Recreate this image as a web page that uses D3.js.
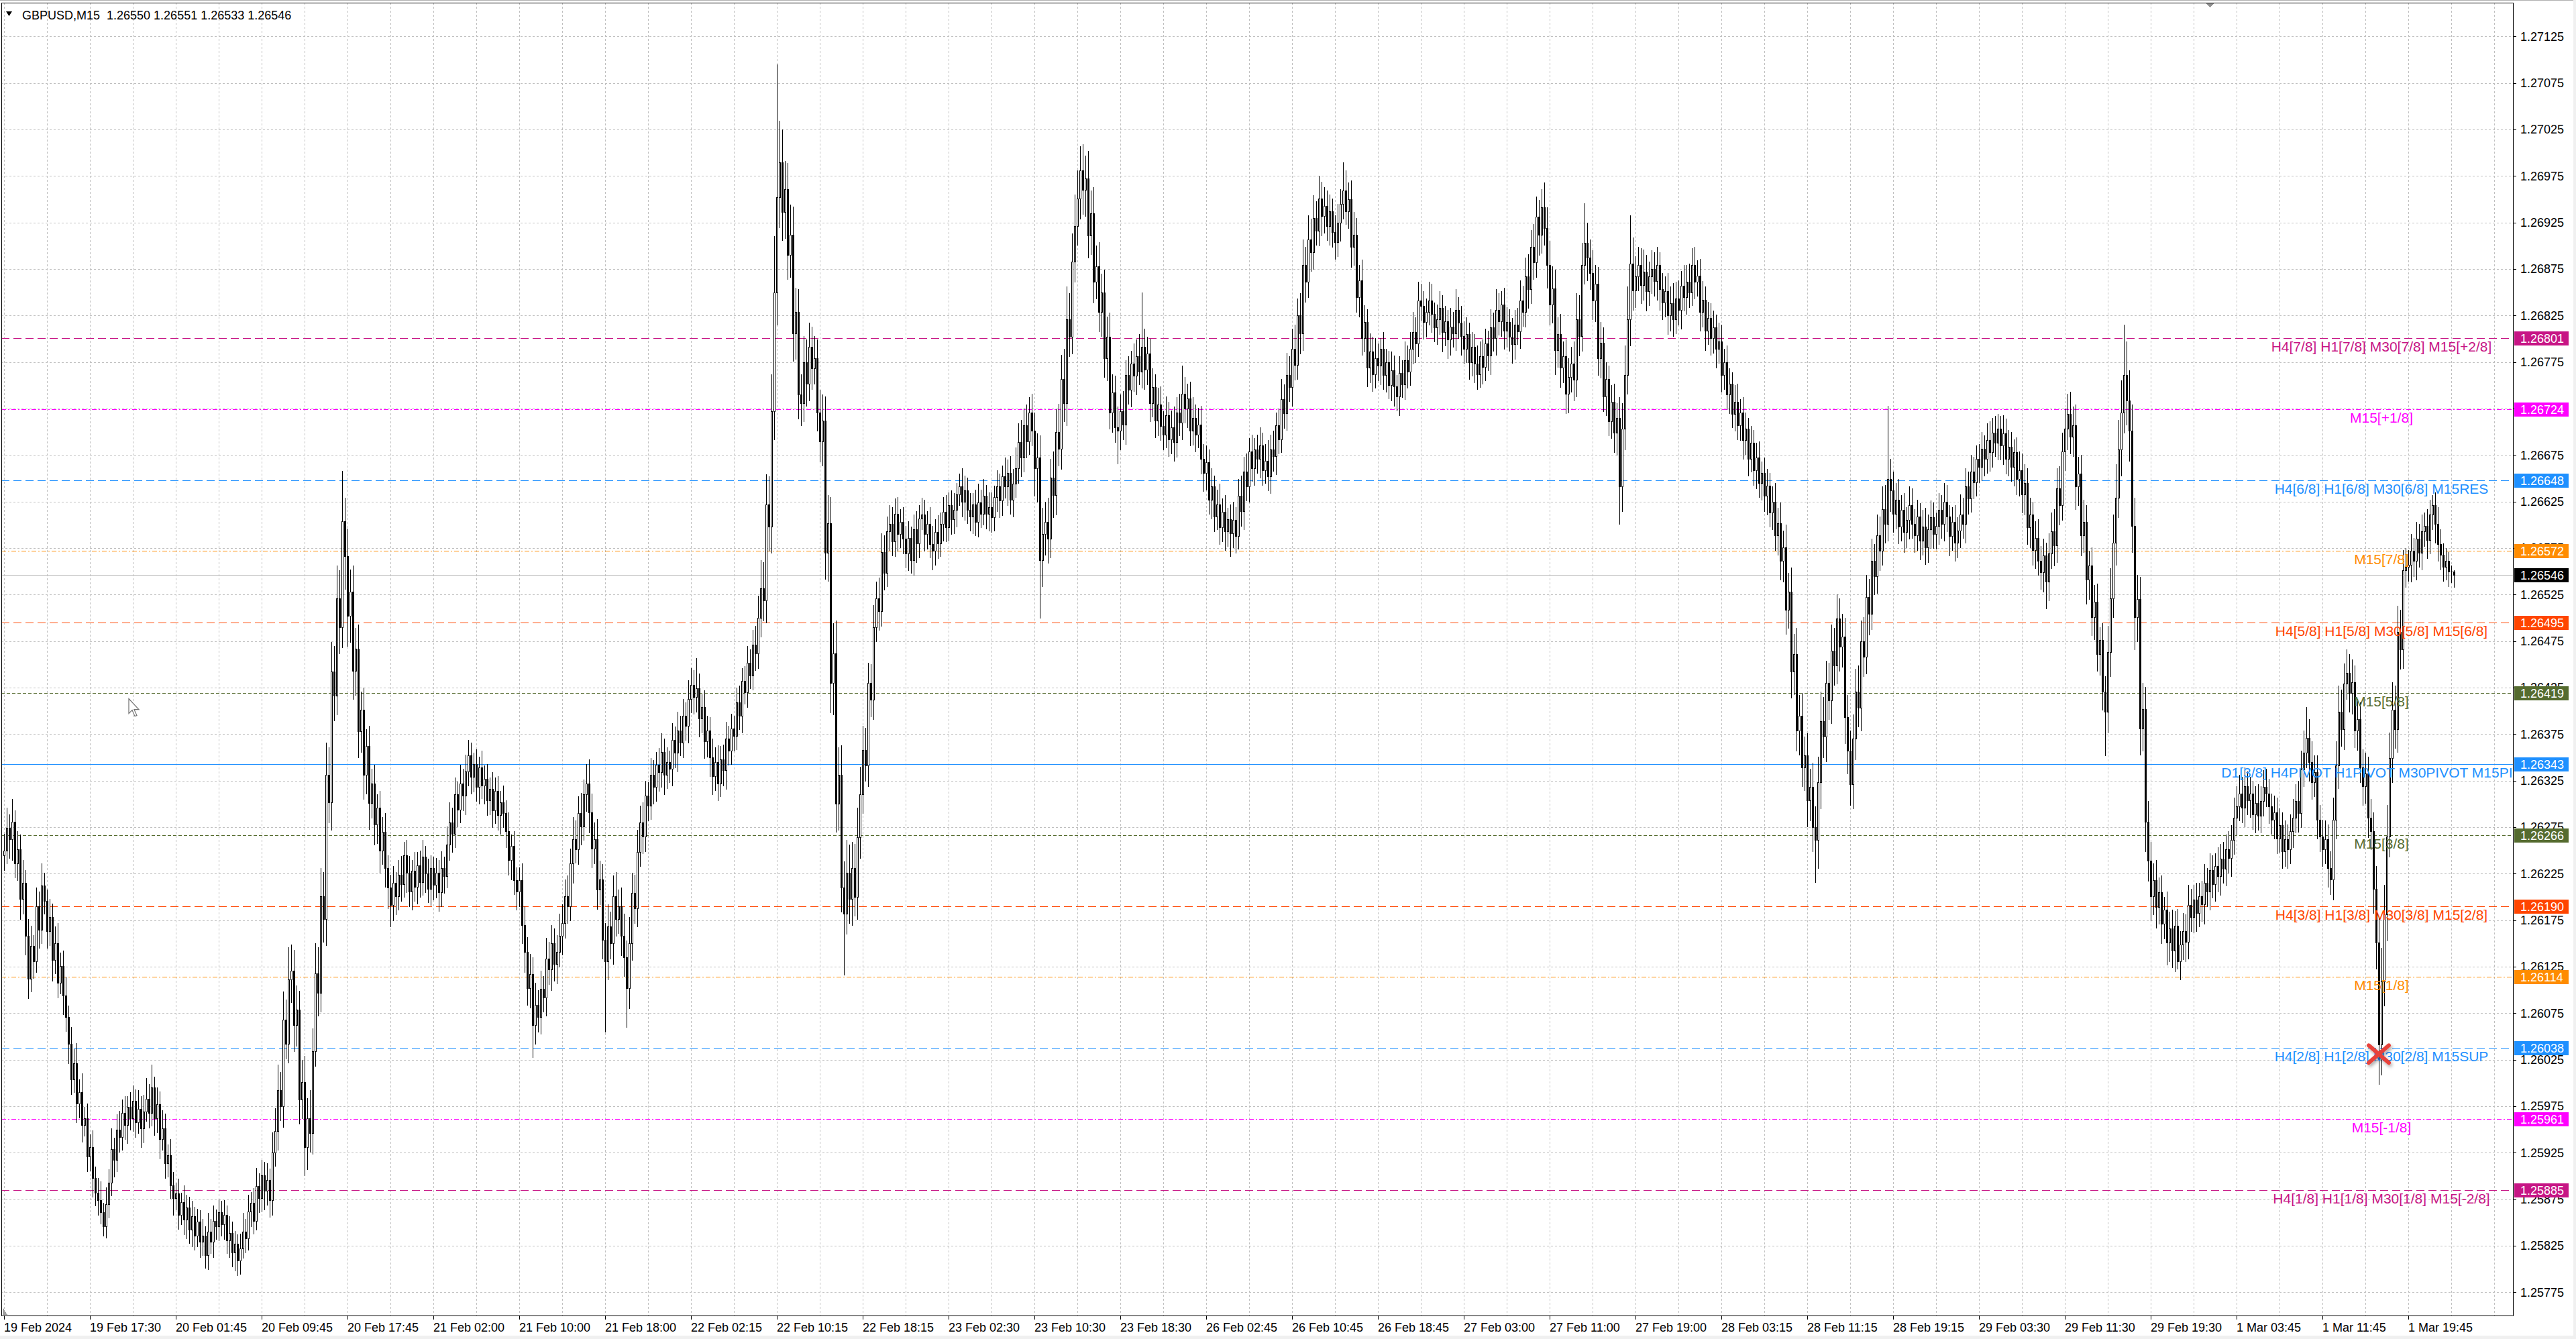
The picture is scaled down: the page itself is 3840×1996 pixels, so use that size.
<!DOCTYPE html>
<html><head><meta charset="utf-8">
<script src="https://cdn.jsdelivr.net/npm/d3@7"></script>
<style>html,body{margin:0;padding:0;background:#fff;overflow:hidden}svg{display:block;font-family:"Liberation Sans",Arial,sans-serif}</style>
</head><body><svg id="c" width="3840" height="1996"></svg>
<script>
// ---------- DATA (prices in points above 1.25000; 1 point = 0.00001) ----------
const symbolTitle = "GBPUSD,M15  1.26550 1.26551 1.26533 1.26546";
const basePrice = 1.25, pointSize = 0.00001;
const opens = [
1245,1250,1274,1262,1281,1236,1251,1198,1215,1158,1112,1147,1131,1190,1165,1212,
1196,1163,1178,1132,1150,1108,1126,1094,1071,1042,1004,1021,978,990,955,962,
921,931,898,882,874,861,846,870,893,929,917,950,942,968,955,974,
962,981,958,972,951,969,983,968,995,962,977,940,951,914,922,890,
876,881,858,872,853,866,842,857,836,851,829,836,815,840,829,852,
846,861,848,858,831,839,818,827,809,822,840,833,862,871,852,889,
876,901,884,896,874,925,948,992,975,1068,1042,1111,1121,1062,1079,982,
1001,931,962,946,1034,1118,1097,1201,1176,1331,1302,1442,1416,1521,1490,1604,
1566,1502,1528,1443,1467,1378,1401,1331,1362,1301,1322,1278,1296,1250,1270,1231,
1210,1191,1215,1201,1224,1214,1245,1226,1206,1228,1211,1234,1216,1243,1225,1209,
1231,1213,1226,1205,1231,1222,1256,1280,1268,1310,1294,1322,1309,1335,1352,1329,
1343,1318,1339,1320,1327,1304,1316,1293,1314,1288,1302,1290,1271,1240,1255,1218,
1206,1218,1170,1141,1102,1117,1062,1084,1071,1101,1092,1134,1122,1150,1128,1141,
1158,1172,1201,1190,1236,1262,1251,1290,1276,1310,1322,1291,1252,1262,1208,1219,
1154,1131,1168,1150,1201,1176,1190,1158,1135,1102,1150,1204,1188,1248,1280,1265,
1309,1298,1331,1318,1342,1334,1356,1331,1345,1338,1369,1355,1379,1366,1395,1384,
1413,1428,1415,1424,1392,1404,1367,1379,1350,1330,1345,1322,1348,1336,1370,1357,
1381,1373,1409,1395,1432,1420,1452,1438,1471,1462,1500,1532,1519,1622,1598,1722,
1850,1952,1990,1936,1961,1890,1912,1806,1829,1740,1731,1775,1752,1791,1768,1779,
1721,1690,1712,1570,1602,1430,1462,1300,1331,1210,1182,1226,1198,1231,1200,1264,
1310,1358,1341,1430,1412,1490,1521,1507,1571,1548,1593,1601,1582,1612,1590,1603,
1585,1569,1586,1562,1595,1580,1607,1611,1590,1601,1579,1572,1592,1580,1601,1614,
1597,1621,1606,1616,1633,1641,1625,1637,1616,1609,1622,1603,1624,1612,1631,1612,
1619,1608,1630,1641,1626,1652,1641,1656,1627,1644,1661,1689,1672,1707,1690,1721,
1701,1661,1672,1562,1590,1603,1585,1651,1632,1700,1682,1757,1731,1821,1802,1883,
1921,1951,1981,1960,1972,1911,1935,1861,1878,1829,1850,1779,1802,1721,1742,1705,
1701,1722,1708,1761,1745,1773,1760,1781,1765,1791,1767,1784,1731,1748,1712,1729,
1706,1697,1718,1692,1705,1689,1721,1710,1741,1725,1736,1701,1715,1697,1708,1671,
1656,1667,1627,1641,1609,1622,1597,1614,1593,1606,1591,1605,1588,1631,1615,1657,
1641,1679,1661,1681,1671,1685,1659,1669,1652,1681,1674,1707,1692,1735,1720,1761,
1748,1789,1772,1825,1806,1879,1861,1907,1893,1930,1916,1951,1932,1943,1921,1937,
1915,1904,1925,1945,1959,1937,1950,1899,1912,1845,1863,1801,1818,1769,1786,1762,
1779,1771,1789,1761,1775,1750,1766,1749,1738,1763,1751,1777,1765,1789,1807,1795,
1841,1835,1818,1829,1841,1827,1812,1821,1833,1807,1819,1799,1813,1806,1831,1817,
1803,1789,1805,1775,1791,1773,1762,1781,1770,1795,1782,1812,1801,1831,1819,1837,
1809,1818,1802,1794,1815,1808,1841,1829,1867,1853,1899,1882,1931,1912,1941,1919,
1879,1837,1854,1788,1805,1769,1781,1741,1759,1773,1756,1821,1803,1879,1903,1887,
1871,1841,1859,1779,1796,1738,1757,1711,1732,1699,1715,1641,1703,1761,1821,1881,
1852,1867,1879,1858,1872,1851,1867,1875,1862,1879,1853,1839,1851,1825,1838,1821,
1843,1831,1857,1845,1861,1850,1879,1861,1868,1829,1842,1809,1822,1801,1812,1789,
1797,1761,1775,1740,1752,1719,1732,1707,1721,1691,1703,1671,1688,1659,1672,1645,
1656,1631,1642,1613,1625,1589,1602,1561,1576,1509,1528,1442,1461,1379,1395,1339,
1352,1304,1318,1275,1261,1323,1389,1372,1430,1411,1465,1449,1499,1469,1480,1393,
1357,1321,1370,1421,1403,1475,1458,1522,1504,1561,1545,1589,1572,1617,1601,1649,
1637,1612,1627,1598,1616,1592,1605,1621,1601,1589,1609,1583,1598,1576,1595,1608,
1590,1599,1616,1601,1625,1609,1588,1603,1581,1594,1611,1601,1641,1628,1657,1646,
1671,1662,1682,1671,1691,1678,1699,1688,1703,1685,1698,1671,1684,1662,1678,1649,
1659,1633,1645,1597,1611,1573,1586,1561,1549,1567,1539,1569,1593,1578,1639,1621,
1679,1703,1719,1695,1707,1641,1655,1589,1603,1541,1556,1501,1517,1461,1476,1421,
1399,1463,1521,1581,1629,1681,1721,1761,1734,1701,1599,1501,1520,1381,1402,1281,
1239,1201,1218,1189,1205,1171,1186,1151,1166,1142,1169,1131,1149,1163,1152,1191,
1178,1197,1183,1201,1192,1215,1206,1229,1214,1233,1222,1241,1230,1251,1242,1261,
1285,1297,1311,1296,1319,1304,1311,1289,1301,1287,1303,1318,1311,1297,1283,1291,
1263,1277,1249,1262,1251,1271,1285,1303,1290,1337,1355,1371,1345,1323,1334,1283,
1265,1251,1262,1231,1219,1283,1341,1399,1380,1429,1441,1419,1431,1379,1391,1339,
1319,1333,1285,1271,1209,1151,1041,1109,1181,1265,1349,1401,1380,1485,1466,1551,
1555,1557,1572,1561,1585,1570,1593,1599,1584,1611,1621,1601,1579,1568,1555,1561,
1550,1550];
const closes = [
1250,1274,1262,1281,1236,1251,1198,1215,1158,1112,1147,1131,1190,1165,1212,1196,
1163,1178,1132,1150,1108,1126,1094,1071,1042,1004,1021,978,990,955,962,921,
931,898,882,874,861,846,870,893,929,917,950,942,968,955,974,962,
981,958,972,951,969,983,968,995,962,977,940,951,914,922,890,876,
881,858,872,853,866,842,857,836,851,829,836,815,840,829,852,846,
861,848,858,831,839,818,827,809,822,840,833,862,871,852,889,876,
901,884,896,874,925,948,992,975,1068,1042,1111,1121,1062,1079,982,1001,
931,962,946,1034,1118,1097,1201,1176,1331,1302,1442,1416,1521,1490,1604,1566,
1502,1528,1443,1467,1378,1401,1331,1362,1301,1322,1278,1296,1250,1270,1231,1210,
1191,1215,1201,1224,1214,1245,1226,1206,1228,1211,1234,1216,1243,1225,1209,1231,
1213,1226,1205,1231,1222,1256,1280,1268,1310,1294,1322,1309,1335,1352,1329,1343,
1318,1339,1320,1327,1304,1316,1293,1314,1288,1302,1290,1271,1240,1255,1218,1206,
1218,1170,1141,1102,1117,1062,1084,1071,1101,1092,1134,1122,1150,1128,1141,1158,
1172,1201,1190,1236,1262,1251,1290,1276,1310,1322,1291,1252,1262,1208,1219,1154,
1131,1168,1150,1201,1176,1190,1158,1135,1102,1150,1204,1188,1248,1280,1265,1309,
1298,1331,1318,1342,1334,1356,1331,1345,1338,1369,1355,1379,1366,1395,1384,1413,
1428,1415,1424,1392,1404,1367,1379,1350,1330,1345,1322,1348,1336,1370,1357,1381,
1373,1409,1395,1432,1420,1452,1438,1471,1462,1500,1532,1519,1622,1598,1722,1850,
1952,1990,1936,1961,1890,1912,1806,1829,1740,1731,1775,1752,1791,1768,1779,1721,
1690,1712,1570,1602,1430,1462,1300,1331,1210,1182,1226,1198,1231,1200,1264,1310,
1358,1341,1430,1412,1490,1521,1507,1571,1548,1593,1601,1582,1612,1590,1603,1585,
1569,1586,1562,1595,1580,1607,1611,1590,1601,1579,1572,1592,1580,1601,1614,1597,
1621,1606,1616,1633,1641,1625,1637,1616,1609,1622,1603,1624,1612,1631,1612,1619,
1608,1630,1641,1626,1652,1641,1656,1627,1644,1661,1689,1672,1707,1690,1721,1701,
1661,1672,1562,1590,1603,1585,1651,1632,1700,1682,1757,1731,1821,1802,1883,1921,
1951,1981,1960,1972,1911,1935,1861,1878,1829,1850,1779,1802,1721,1742,1705,1701,
1722,1708,1761,1745,1773,1760,1781,1765,1791,1767,1784,1731,1748,1712,1729,1706,
1697,1718,1692,1705,1689,1721,1710,1741,1725,1736,1701,1715,1697,1708,1671,1656,
1667,1627,1641,1609,1622,1597,1614,1593,1606,1591,1605,1588,1631,1615,1657,1641,
1679,1661,1681,1671,1685,1659,1669,1652,1681,1674,1707,1692,1735,1720,1761,1748,
1789,1772,1825,1806,1879,1861,1907,1893,1930,1916,1951,1932,1943,1921,1937,1915,
1904,1925,1945,1959,1937,1950,1899,1912,1845,1863,1801,1818,1769,1786,1762,1779,
1771,1789,1761,1775,1750,1766,1749,1738,1763,1751,1777,1765,1789,1807,1795,1841,
1835,1818,1829,1841,1827,1812,1821,1833,1807,1819,1799,1813,1806,1831,1817,1803,
1789,1805,1775,1791,1773,1762,1781,1770,1795,1782,1812,1801,1831,1819,1837,1809,
1818,1802,1794,1815,1808,1841,1829,1867,1853,1899,1882,1931,1912,1941,1919,1879,
1837,1854,1788,1805,1769,1781,1741,1759,1773,1756,1821,1803,1879,1903,1887,1871,
1841,1859,1779,1796,1738,1757,1711,1732,1699,1715,1641,1703,1761,1821,1881,1852,
1867,1879,1858,1872,1851,1867,1875,1862,1879,1853,1839,1851,1825,1838,1821,1843,
1831,1857,1845,1861,1850,1879,1861,1868,1829,1842,1809,1822,1801,1812,1789,1797,
1761,1775,1740,1752,1719,1732,1707,1721,1691,1703,1671,1688,1659,1672,1645,1656,
1631,1642,1613,1625,1589,1602,1561,1576,1509,1528,1442,1461,1379,1395,1339,1352,
1304,1318,1275,1261,1323,1389,1372,1430,1411,1465,1449,1499,1469,1480,1393,1357,
1321,1370,1421,1403,1475,1458,1522,1504,1561,1545,1589,1572,1617,1601,1649,1637,
1612,1627,1598,1616,1592,1605,1621,1601,1589,1609,1583,1598,1576,1595,1608,1590,
1599,1616,1601,1625,1609,1588,1603,1581,1594,1611,1601,1641,1628,1657,1646,1671,
1662,1682,1671,1691,1678,1699,1688,1703,1685,1698,1671,1684,1662,1678,1649,1659,
1633,1645,1597,1611,1573,1586,1561,1549,1567,1539,1569,1593,1578,1639,1621,1679,
1703,1719,1695,1707,1641,1655,1589,1603,1541,1556,1501,1517,1461,1476,1421,1399,
1463,1521,1581,1629,1681,1721,1761,1734,1701,1599,1501,1520,1381,1402,1281,1239,
1201,1218,1189,1205,1171,1186,1151,1166,1142,1169,1131,1149,1163,1152,1191,1178,
1197,1183,1201,1192,1215,1206,1229,1214,1233,1222,1241,1230,1251,1242,1261,1285,
1297,1311,1296,1319,1304,1311,1289,1301,1287,1303,1318,1311,1297,1283,1291,1263,
1277,1249,1262,1251,1271,1285,1303,1290,1337,1355,1371,1345,1323,1334,1283,1265,
1251,1262,1231,1219,1283,1341,1399,1380,1429,1441,1419,1431,1379,1391,1339,1319,
1333,1285,1271,1209,1151,1041,1109,1181,1265,1349,1401,1380,1485,1466,1551,1555,
1557,1572,1561,1585,1570,1593,1599,1584,1611,1621,1601,1579,1568,1555,1561,1550,
1550,1546];
const upperWicks = [
18,22,15,24,12,20,16,25,14,18,22,12,20,16,24,14,
12,20,15,18,22,14,16,20,12,18,15,22,14,20,12,16,
14,18,12,16,20,10,18,14,22,12,16,20,14,18,12,16,
16,12,20,14,18,22,16,25,12,18,14,20,16,12,18,14,
12,16,10,18,14,12,16,10,14,12,18,10,20,14,16,12,
14,12,16,10,18,12,14,10,16,20,14,18,12,16,20,14,
16,14,18,12,22,25,28,20,30,22,35,28,22,26,20,24,
28,22,30,25,32,28,30,26,35,30,32,28,35,30,54,25,
30,24,28,22,26,20,24,18,22,16,20,14,18,16,20,14,
14,18,12,16,20,14,16,18,12,20,14,16,18,12,16,14,
12,16,14,18,12,20,22,16,18,14,20,16,18,17,14,12,
16,12,18,14,16,12,18,14,16,12,18,14,20,12,16,14,
14,18,20,16,22,18,24,16,20,14,22,18,20,16,18,24,
20,18,22,16,24,20,18,22,16,21,26,20,18,22,20,16,
18,24,16,22,26,18,20,24,18,28,22,20,24,18,22,16,
14,18,16,14,18,20,14,16,12,18,14,20,16,18,14,20,
18,16,33,16,14,18,16,14,20,16,18,14,16,18,14,16,
14,16,18,14,16,18,14,16,20,24,30,28,32,30,40,60,
143,44,35,30,28,32,30,26,24,22,28,24,26,22,24,20,
24,28,26,30,28,32,35,30,32,28,35,30,28,26,32,30,
26,24,22,20,24,18,22,20,18,16,20,18,16,18,14,16,
14,18,12,16,20,14,18,16,14,18,20,14,18,12,16,18,
14,16,18,12,14,20,16,14,18,12,16,20,14,18,12,16,
16,12,18,14,12,20,14,18,16,22,20,24,18,22,16,20,
20,26,24,28,22,26,20,28,24,30,26,32,35,28,30,34,
30,26,28,25,30,24,28,22,26,20,24,22,26,20,18,22,
18,22,16,20,14,22,18,24,59,20,18,16,20,14,18,20,
16,20,14,18,22,16,20,30,18,16,18,22,14,18,20,16,
18,14,20,12,16,22,14,18,12,16,20,14,18,22,16,20,
14,18,12,16,20,14,18,22,16,20,14,18,22,16,24,20,
22,26,18,24,28,20,26,22,24,18,24,18,20,16,18,14,
18,20,16,31,22,18,20,24,18,16,22,18,14,20,16,22,
16,12,18,14,12,20,16,12,18,14,20,16,18,22,16,20,
18,16,14,20,18,12,16,18,14,16,12,20,16,22,14,18,
16,18,12,16,14,20,16,18,16,14,20,16,22,18,14,18,
16,14,20,16,18,22,16,20,24,18,24,22,18,20,27,22,
26,24,20,18,22,16,18,20,18,24,28,26,24,43,22,20,
24,20,18,22,16,18,14,18,20,16,22,28,32,35,52,28,
22,20,18,24,18,16,20,18,20,14,18,16,20,18,22,18,
20,16,22,18,20,18,20,16,18,20,14,18,16,18,14,20,
18,14,18,16,12,18,20,14,16,18,12,18,14,16,18,12,
16,18,14,16,20,16,22,18,24,20,26,22,28,22,24,20,
24,20,26,22,28,32,26,24,22,28,24,26,22,24,20,24,
22,26,24,28,22,26,24,20,24,18,22,20,24,26,79,22,
20,18,22,16,18,14,20,18,16,18,14,18,20,16,18,16,
14,18,16,20,18,12,16,18,14,22,18,20,16,18,16,14,
16,18,14,18,20,16,18,16,14,20,16,18,16,14,16,20,
18,20,16,18,14,18,20,16,18,14,22,20,24,22,24,20,
22,22,24,20,22,18,20,24,18,16,20,18,20,14,18,16,
28,32,30,36,32,34,54,36,32,28,30,26,24,28,24,22,
20,18,22,16,18,14,20,18,20,16,18,14,20,18,22,18,
16,18,14,16,20,16,18,16,14,20,16,18,16,20,16,22,
22,20,18,20,16,18,14,18,20,16,18,20,16,14,18,16,
18,14,20,16,18,20,18,22,20,24,33,20,22,18,18,16,
18,20,16,18,24,26,28,24,22,25,20,24,18,22,18,20,
22,18,20,20,24,28,36,32,34,28,30,26,28,24,22,20,
16,18,14,18,16,18,14,18,16,11,14,18,16,12,14,10,
6,1];
const lowerWicks = [
16,14,20,22,15,18,22,16,20,21,14,18,12,20,15,14,
18,15,22,14,16,12,20,15,21,16,14,20,15,18,12,16,
15,20,14,16,12,10,12,15,14,18,12,16,14,15,20,12,
14,16,12,20,15,10,16,14,18,15,21,12,16,15,14,18,
12,15,10,16,20,14,18,15,12,16,14,14,15,12,16,14,
15,12,16,14,18,15,20,16,14,10,15,12,16,14,10,15,
14,20,15,18,16,14,20,15,22,16,20,24,28,22,26,20,
30,24,20,22,16,25,20,24,28,22,30,26,20,28,22,35,
32,28,30,26,28,22,26,20,28,16,22,20,24,15,20,22,
23,16,20,15,18,14,21,16,20,15,18,16,14,20,15,18,
16,14,20,15,18,12,16,20,15,18,14,16,20,15,18,16,
15,18,14,20,16,15,18,14,16,20,15,18,16,21,15,20,
16,20,22,18,21,34,20,16,18,15,20,16,22,18,21,16,
20,16,18,15,21,14,16,20,15,18,22,20,16,21,16,20,
76,20,16,22,18,15,21,20,42,22,18,16,20,15,18,16,
16,14,18,15,20,16,21,14,15,18,16,20,14,16,15,18,
15,18,16,20,15,18,16,20,20,15,18,14,16,20,15,14,
16,14,15,18,12,16,14,15,18,16,20,22,24,26,28,30,
35,32,30,28,26,24,30,28,26,24,20,24,18,22,16,20,
22,26,28,30,32,34,30,28,26,66,22,26,28,20,24,22,
20,16,22,18,21,15,20,16,18,14,20,15,16,18,14,16,
15,18,14,16,20,15,12,18,16,14,20,15,16,14,18,15,
14,16,15,18,12,16,20,14,15,18,14,16,15,12,16,18,
16,14,15,18,16,12,20,15,18,14,16,20,15,18,14,16,
30,36,62,28,22,26,20,24,21,18,22,20,24,21,18,22,
20,22,26,28,24,20,22,18,21,26,20,24,18,21,16,35,
20,16,21,15,18,16,20,14,18,21,16,20,15,18,16,15,
16,14,18,15,20,16,14,18,15,20,16,15,18,14,16,20,
18,15,20,16,14,18,15,20,16,25,15,18,14,16,20,15,
16,14,18,15,20,16,14,15,18,16,20,15,14,16,18,15,
20,16,15,22,18,21,16,20,18,15,16,21,18,15,20,16,
18,15,20,16,14,18,22,20,16,21,18,15,20,16,18,15,
16,20,15,18,14,16,21,15,20,14,16,18,15,16,20,14,
15,18,16,14,20,15,18,16,21,14,20,16,15,18,16,20,
16,14,18,15,20,16,14,18,15,16,20,14,18,15,16,20,
18,15,20,16,14,18,15,16,20,15,18,16,22,20,18,24,
22,20,26,18,21,16,21,20,16,22,18,21,16,20,24,18,
20,22,18,21,16,20,15,18,21,24,40,26,22,20,28,21,
18,15,20,16,21,15,18,16,20,22,18,15,20,16,18,15,
16,20,15,18,16,14,18,15,20,16,21,15,18,16,20,15,
18,15,16,20,14,18,15,16,20,15,18,14,16,20,15,18,
16,20,15,18,16,21,20,22,26,20,28,24,22,26,20,24,
28,22,26,45,30,28,22,26,20,24,21,20,26,22,28,24,
22,26,22,20,24,21,18,22,16,20,18,21,15,20,18,22,
20,16,18,15,21,16,20,15,18,16,20,15,18,16,20,15,
16,20,15,18,16,21,15,20,16,18,15,20,16,14,18,15,
16,14,18,15,20,16,14,18,15,20,16,18,15,20,16,18,
20,22,18,21,16,20,15,18,21,29,20,16,22,18,21,16,
20,22,18,21,24,20,22,18,26,21,20,24,18,22,20,47,
22,26,20,24,21,28,22,26,32,28,35,26,28,24,32,22,
26,20,22,18,21,16,24,20,18,22,8,20,16,21,18,15,
16,20,15,18,21,16,20,15,18,16,20,15,18,16,20,15,
18,15,16,20,15,18,16,20,15,18,16,14,18,15,20,16,
15,18,16,20,15,18,16,20,15,18,16,20,18,15,20,16,
18,15,20,16,22,20,24,18,21,16,20,22,18,21,16,20,
18,21,20,26,28,42,32,26,28,22,26,20,24,21,20,18,
15,18,16,20,15,18,16,20,15,16,20,18,16,15,14,16,
12,13];
// time-axis labels, one every 32 bars
const timeLabels = ["19 Feb 2024","19 Feb 17:30","20 Feb 01:45","20 Feb 09:45","20 Feb 17:45","21 Feb 02:00","21 Feb 10:00","21 Feb 18:00","22 Feb 02:15","22 Feb 10:15","22 Feb 18:15","23 Feb 02:30","23 Feb 10:30","23 Feb 18:30","26 Feb 02:45","26 Feb 10:45","26 Feb 18:45","27 Feb 03:00","27 Feb 11:00","27 Feb 19:00","28 Feb 03:15","28 Feb 11:15","28 Feb 19:15","29 Feb 03:30","29 Feb 11:30","29 Feb 19:30","1 Mar 03:45","1 Mar 11:45","1 Mar 19:45"];
const priceTicks = [1.25775,1.25825,1.25875,1.25925,1.25975,1.26025,1.26075,1.26125,1.26175,1.26225,1.26275,1.26325,1.26375,1.26425,1.26475,1.26525,1.26575,1.26625,1.26675,1.26725,1.26775,1.26825,1.26875,1.26925,1.26975,1.27025,1.27075,1.27125];
const levelPrices = [1.26801,1.26724,1.26648,1.26572,1.26495,1.26419,1.26343,1.26266,1.26190,1.26114,1.26038,1.25961,1.25885];
const levelNames = ["H4[7/8] H1[7/8] M30[7/8] M15[+2/8]","M15[+1/8]","H4[6/8] H1[6/8] M30[6/8] M15RES","M15[7/8]","H4[5/8] H1[5/8] M30[5/8] M15[6/8]","M15[5/8]","D1[3/8] H4PIVOT H1PIVOT M30PIVOT M15PIVOT","M15[3/8]","H4[3/8] H1[3/8] M30[3/8] M15[2/8]","M15[1/8]","H4[2/8] H1[2/8] M30[2/8] M15SUP","M15[-1/8]","H4[1/8] H1[1/8] M30[1/8] M15[-2/8]"];
const currentPrice = 1.26546;
const crossMark = {bar: 885, price: 1.26031};
const mousePointer = {bar: 46.5, price: 1.26413};

// ---------- STYLE ----------
const levelColor = ["#C71585","#FF00FF","#1E90FF","#FF8C00","#FF4500","#556B2F","#1E90FF","#556B2F","#FF4500","#FF8C00","#1E90FF","#FF00FF","#C71585"];
const levelDash  = ["12,6","7,3,2,3","12,6","7,3,2,3","12,6","5,3",null,"5,3","12,6","7,3,2,3","12,6","7,3,2,3","12,6"];

const svg = d3.select("#c");
const PL = 2, PT = 4, PR = 3746, PB = 1961, SLOTS = 935;
const x = d3.scaleLinear().domain([0, SLOTS]).range([6, 6 + 4 * SLOTS]);
const y = d3.scaleLinear().domain([1.25750, 1.27162]).range([PB, 3]);
const P = v => basePrice + v * pointSize;

svg.append("rect").attr("width",3840).attr("height",1996).attr("fill","#f0f0f0");
svg.append("rect").attr("x",0).attr("y",0).attr("width",3836).attr("height",1991).attr("fill","#fff");

const defs = svg.append("defs");
defs.append("clipPath").attr("id","plotClip").append("rect").attr("x",PL).attr("y",PT).attr("width",PR-PL).attr("height",PB-PT);
const f = defs.append("filter").attr("id","shadow").attr("x","-50%").attr("y","-50%").attr("width","200%").attr("height","200%");
f.append("feDropShadow").attr("dx",2).attr("dy",3).attr("stdDeviation",2.5).attr("flood-color","#000").attr("flood-opacity",0.35);

const plot = svg.append("g").attr("clip-path","url(#plotClip)").attr("shape-rendering","crispEdges");

// grid
plot.append("g").selectAll("line").data(priceTicks).join("line")
  .attr("x1",PL).attr("x2",PR).attr("y1",d=>Math.round(y(d))+0.5).attr("y2",d=>Math.round(y(d))+0.5)
  .attr("stroke","#c0c0c0").attr("stroke-dasharray","3,3");
plot.append("g").selectAll("line").data(d3.range(0, SLOTS, 16)).join("line")
  .attr("x1",d=>Math.round(x(d))+0.5).attr("x2",d=>Math.round(x(d))+0.5).attr("y1",PT).attr("y2",PB)
  .attr("stroke","#c0c0c0").attr("stroke-dasharray","3,3");

// level lines
levelPrices.forEach((p,i)=>{
  const ly = Math.round(y(p))+0.5;
  plot.append("line").attr("x1",PL).attr("x2",PR).attr("y1",ly).attr("y2",ly)
    .attr("stroke",levelColor[i]).attr("stroke-dasharray",levelDash[i]);
});
plot.append("line").attr("x1",PL).attr("x2",PR).attr("y1",Math.round(y(currentPrice))+0.5).attr("y2",Math.round(y(currentPrice))+0.5).attr("stroke","#c0c0c0");

// candles
const bars = closes.map((c,i)=>{
  const o = opens[i];
  return {i, o, c, h: Math.max(o,c)+upperWicks[i], l: Math.min(o,c)-lowerWicks[i]};
});
const cg = plot.append("g");
bars.forEach(b=>{
  const cx = Math.round(x(b.i));
  cg.append("line").attr("x1",cx+0.5).attr("x2",cx+0.5).attr("y1",Math.round(y(P(b.h)))).attr("y2",Math.round(y(P(b.l)))+1).attr("stroke","#000");
  const yt = Math.round(y(P(Math.max(b.o,b.c)))), yb = Math.round(y(P(Math.min(b.o,b.c))));
  if (yb - yt < 2) {
    cg.append("rect").attr("x",cx-1).attr("y",yt).attr("width",3).attr("height",Math.max(1,yb-yt+1)).attr("fill","#000");
  } else if (b.c >= b.o) {
    cg.append("rect").attr("x",cx-0.5).attr("y",yt+0.5).attr("width",2).attr("height",yb-yt).attr("fill","#fff").attr("stroke","#000");
  } else {
    cg.append("rect").attr("x",cx-1).attr("y",yt).attr("width",3).attr("height",yb-yt+1).attr("fill","#000");
  }
});

// level labels
const lab = svg.append("g").attr("clip-path","url(#plotClip)").attr("font-size",21).attr("text-anchor","middle");
levelPrices.forEach((p,i)=>{
  lab.append("text").attr("x",x(886)).attr("y",Math.round(y(p))+20).attr("fill",levelColor[i]).text(levelNames[i]);
});

// red cross marker
const cm = svg.append("g").attr("transform",`translate(${x(crossMark.bar)},${y(crossMark.price)})`).attr("filter","url(#shadow)");
cm.append("line").attr("x1",-15).attr("y1",-13).attr("x2",15).attr("y2",13).attr("stroke","#e8433a").attr("stroke-width",6).attr("stroke-linecap","round");
cm.append("line").attr("x1",15).attr("y1",-13).attr("x2",-15).attr("y2",13).attr("stroke","#e8433a").attr("stroke-width",6).attr("stroke-linecap","round");

// mouse pointer
svg.append("path").attr("transform",`translate(${x(mousePointer.bar)},${y(mousePointer.price)})`)
  .attr("d","M0,0 L0,22 L5,17 L9,26 L12,25 L8,16 L15,16 Z").attr("fill","#fff").attr("stroke","#707070").attr("stroke-width",1.2);

// frame
const fr = svg.append("g").attr("shape-rendering","crispEdges");
fr.append("rect").attr("x",PL+0.5).attr("y",PT+0.5).attr("width",PR-PL).attr("height",PB-PT).attr("fill","none").attr("stroke","#000");
fr.append("line").attr("x1",0).attr("x2",3836).attr("y1",0.5).attr("y2",0.5).attr("stroke","#b0b0b0");
fr.append("path").attr("d",`M${x(822)-6},${PT+1} L${x(822)+6},${PT+1} L${x(822)},${PT+7} Z`).attr("fill","#909090");
fr.append("path").attr("d",`M${PL+2},${PB-12} L${PL+2},${PB-1} L${PL+9},${PB-1} Z`).attr("fill","#a0a0a0");

// price axis
const ax = svg.append("g").attr("font-size",18);
ax.selectAll("line.t").data(priceTicks).join("line").attr("shape-rendering","crispEdges")
  .attr("x1",PR).attr("x2",PR+5).attr("y1",d=>Math.round(y(d))+0.5).attr("y2",d=>Math.round(y(d))+0.5).attr("stroke","#000");
ax.selectAll("text.t").data(priceTicks).join("text").attr("x",3757).attr("y",d=>y(d)+6.5).attr("fill","#000").text(d=>d.toFixed(5));
const boxes = levelPrices.map((p,i)=>({p, col: levelColor[i]})).concat([{p: currentPrice, col: "#000"}]);
boxes.forEach(b=>{
  const by = Math.round(y(b.p));
  ax.append("rect").attr("x",3748).attr("y",by-10).attr("width",81).attr("height",21).attr("fill",b.col);
  ax.append("text").attr("x",3757).attr("y",by+7).attr("fill","#fff").text(b.p.toFixed(5));
});

// time axis
const tx = svg.append("g").attr("font-size",18);
timeLabels.forEach((t,k)=>{
  const px = Math.round(x(32*k));
  tx.append("line").attr("shape-rendering","crispEdges").attr("x1",px+0.5).attr("x2",px+0.5).attr("y1",PB).attr("y2",PB+6).attr("stroke","#000");
  tx.append("text").attr("x",px).attr("y",1985).attr("fill","#000").text(t);
});

// header
svg.append("path").attr("d","M9,17 L18,17 L13.5,24 Z").attr("fill","#000");
svg.append("text").attr("x",33).attr("y",29).attr("font-size",18).attr("fill","#000").style("white-space","pre").text(symbolTitle);
</script></body></html>
